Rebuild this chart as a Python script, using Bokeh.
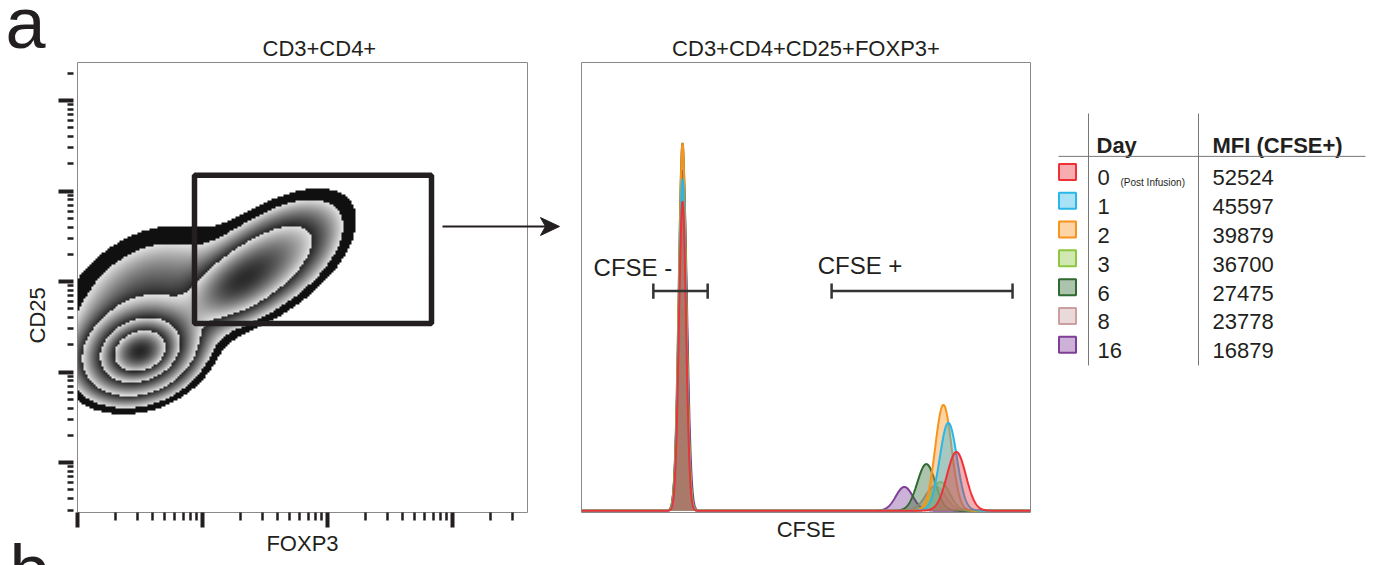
import numpy as np
from bokeh.plotting import figure
from bokeh.layouts import row
from bokeh.models import Range1d, FixedTicker, ColumnDataSource
from bokeh.core.properties import value
from bokeh.embed import file_html
from bokeh.resources import INLINE

FONT = "Liberation Sans"
INK = "#231f20"
FRAME = "#8a8a8a"

# ---------------- data: panel a, left (log10 fluorescence) ----------------
foxp3_limits = [2.0, 5.6]
cd25_limits = [1.45, 6.42]
foxp3_decades = [2, 3, 4, 5]
cd25_decades = [2, 3, 4, 5, 6]
# cell populations (log10 units)
pop_names = ["CD25lo FOXP3lo", "CD25+ FOXP3+ core", "CD25hi FOXP3+", "diffuse"]
pop_foxp3 = [2.50, 3.25, 3.56, 2.55]
pop_cd25 = [3.22, 3.95, 4.25, 3.82]
pop_sd_foxp3 = [0.23, 0.22, 0.31, 0.38]
pop_sd_cd25 = [0.25, 0.25, 0.36, 0.45]
pop_corr = [0.2, 0.5, 0.55, 0.35]
pop_peak = [1.0, 0.22, 0.26, 0.12]
zebra_levels = [0.025, 0.05, 0.16, 0.42, 0.72]
gate_foxp3 = [2.936, 4.832]
gate_cd25 = [3.538, 5.174]

# ---------------- data: panel a, right (CFSE histograms) ----------------
days = ["0", "1", "2", "3", "6", "8", "16"]
mfi = ["52524", "45597", "39879", "36700", "27475", "23778", "16879"]
day_colors = ["#ec3237", "#29b6e8", "#f7941d", "#8dc63f", "#2f6a31", "#c9a09d", "#7f3f98"]
neg_center = [225, 225, 225, 225, 225, 225, 226]
neg_sd = [8, 8, 8, 8.5, 8.5, 9, 9]
neg_height = [69, 74, 82, 74, 82, 45, 76]
pos_center = [835, 817, 806, 800, 768, 788, 719]
pos_sd = [21, 19, 18, 20, 20, 22, 19]
pos_height = [13.1, 19.6, 23.6, 6.4, 10.4, 5.5, 5.3]
cfse_gate_names = ["CFSE -", "CFSE +"]
cfse_gate_lo = [160, 557]
cfse_gate_hi = [281, 960]
cfse_gate_level = 49
cfse_label_x = [27, 526]
cfse_label_y = [54.3, 54.8]

# ================= left panel =================
p1 = figure(width=560, height=565, x_range=Range1d(*foxp3_limits), y_range=Range1d(*cd25_limits),
            output_backend="svg", toolbar_location=None,
            min_border_left=77, min_border_right=33, min_border_top=62, min_border_bottom=53,
            title="CD3+CD4+")
p1.outline_line_color = FRAME
p1.outline_line_width = 1
p1.grid.visible = False
p1.title.text_font = FONT
p1.title.text_font_size = "22px"
p1.title.text_font_style = "normal"
p1.title.text_color = INK
p1.title.align = "left"
p1.title.offset = 185
p1.title.standoff = 4

def log_minor(lo, hi):
    out = []
    for n in range(int(np.floor(lo)) - 1, int(np.ceil(hi)) + 1):
        for k in range(2, 10):
            v = n + np.log10(k)
            if lo <= v <= hi:
                out.append(float(v))
    return out

xa = p1.xaxis[0]
xa.ticker = FixedTicker(ticks=foxp3_decades, minor_ticks=log_minor(*foxp3_limits))
xa.axis_line_color = None
xa.major_tick_in = 0
xa.major_tick_out = 15
xa.major_tick_line_width = 4
xa.major_tick_line_color = INK
xa.minor_tick_in = 0
xa.minor_tick_out = 8
xa.minor_tick_line_width = 2.5
xa.minor_tick_line_color = INK
xa.major_label_text_font_size = "0px"
xa.major_label_standoff = 0
xa.axis_label = "FOXP3"
xa.axis_label_text_font = FONT
xa.axis_label_text_font_size = "22px"
xa.axis_label_text_font_style = "normal"
xa.axis_label_text_color = INK
xa.axis_label_standoff = 3

ya = p1.yaxis[0]
ya.ticker = FixedTicker(ticks=cd25_decades, minor_ticks=log_minor(*cd25_limits))
ya.axis_line_color = None
ya.major_tick_in = -4
ya.major_tick_out = 19
ya.major_tick_line_width = 4
ya.major_tick_line_color = INK
ya.minor_tick_in = -4
ya.minor_tick_out = 10
ya.minor_tick_line_width = 2.5
ya.minor_tick_line_color = INK
ya.major_label_text_font_size = "0px"
ya.major_label_standoff = 0

# zebra density image
nx, ny = 225, 225
xs = foxp3_limits[0] + (np.arange(nx) + 0.5) * (foxp3_limits[1] - foxp3_limits[0]) / nx
ys = cd25_limits[0] + (np.arange(ny) + 0.5) * (cd25_limits[1] - cd25_limits[0]) / ny
X, Y = np.meshgrid(xs, ys)
D = np.zeros_like(X)
for cx, cy, sx, sy, rho, pk in zip(pop_foxp3, pop_cd25, pop_sd_foxp3, pop_sd_cd25, pop_corr, pop_peak):
    dx = (X - cx) / sx
    dy = (Y - cy) / sy
    z = (dx ** 2 + dy ** 2 - 2 * rho * dx * dy) / (1 - rho ** 2)
    D += pk * np.exp(-0.5 * z)

gray = np.full(D.shape, 255.0)
alpha = np.zeros(D.shape, dtype=np.uint8)
rim = (D >= zebra_levels[0]) & (D < zebra_levels[1])
gray[rim] = 16
alpha[rim] = 255
edges = zebra_levels[1:] + [float(D.max()) * 1.001]
for lo, hi in zip(edges[:-1], edges[1:]):
    m = (D >= lo) & (D < hi)
    t = np.log(D[m] / lo) / np.log(hi / lo)
    gray[m] = 228 - 190 * t
    alpha[m] = 255
rgba = np.zeros((ny, nx, 4), dtype=np.uint8)
g8 = np.clip(gray, 0, 255).astype(np.uint8)
rgba[..., 0] = g8
rgba[..., 1] = g8
rgba[..., 2] = g8
rgba[..., 3] = alpha
img = rgba.view(np.uint32).reshape(ny, nx)
p1.image_rgba(image=[img], x=foxp3_limits[0], y=cd25_limits[0],
              dw=foxp3_limits[1] - foxp3_limits[0], dh=cd25_limits[1] - cd25_limits[0])

# gate
p1.quad(left=[gate_foxp3[0]], right=[gate_foxp3[1]], bottom=[gate_cd25[0]], top=[gate_cd25[1]],
        fill_color=None, line_color=INK, line_width=5.5)

# arrow to histogram panel (overlay level so it may leave the frame)
p1.segment(x0=[4.92], y0=[4.609], x1=[5.77], y1=[4.609], line_color=INK, line_width=2, level="overlay")
p1.patch(x=[5.856, 5.704, 5.744, 5.704], y=[4.609, 4.707, 4.609, 4.510],
         fill_color=INK, line_color=INK, line_width=1, level="overlay")

p1.text(x=[1.68], y=[3.627], text=["CD25"], angle=np.pi / 2, text_align="center",
        text_baseline="middle", text_font=value(FONT), text_font_size="22px",
        text_color=INK, level="overlay")
p1.text(x=[1.424, 1.456], y=[6.860, 0.820], text=["a", "b"], text_font=value(FONT),
        text_font_size="72px", text_baseline="middle", text_color=INK, level="overlay")

# ================= right panel =================
p2 = figure(width=490, height=565, x_range=Range1d(0, 1000), y_range=Range1d(-0.4, 100),
            output_backend="svg", toolbar_location=None,
            min_border_left=21, min_border_right=20, min_border_top=62, min_border_bottom=53,
            title="CD3+CD4+CD25+FOXP3+")
p2.outline_line_color = FRAME
p2.outline_line_width = 1
p2.grid.visible = False
p2.title.text_font = FONT
p2.title.text_font_size = "22px"
p2.title.text_font_style = "normal"
p2.title.text_color = INK
p2.title.align = "center"
p2.title.standoff = 4
p2.yaxis.visible = False
xb = p2.xaxis[0]
xb.ticker = FixedTicker(ticks=[])
xb.axis_line_color = None
xb.major_tick_line_color = None
xb.minor_tick_line_color = None
xb.major_tick_out = 0
xb.minor_tick_out = 0
xb.major_label_text_font_size = "0px"
xb.major_label_standoff = 0
xb.axis_label = "CFSE"
xb.axis_label_text_font = FONT
xb.axis_label_text_font_size = "22px"
xb.axis_label_text_font_style = "normal"
xb.axis_label_text_color = INK
xb.axis_label_standoff = 4

cx = np.linspace(0, 1000, 2001)
for i in reversed(range(len(days))):
    yv = (neg_height[i] * np.exp(-0.5 * ((cx - neg_center[i]) / neg_sd[i]) ** 2)
          + pos_height[i] * np.exp(-0.5 * ((cx - pos_center[i]) / pos_sd[i]) ** 2))
    src = ColumnDataSource(dict(x=cx, y=yv, y0=np.zeros_like(cx)))
    p2.varea(x="x", y1="y0", y2="y", source=src, fill_color=day_colors[i], fill_alpha=0.4)
    p2.line(x="x", y="y", source=src, line_color=day_colors[i], line_width=2)

gate_src = ColumnDataSource(dict(lo=cfse_gate_lo, hi=cfse_gate_hi,
                                 lvl=[cfse_gate_level] * 2,
                                 cap_lo=[cfse_gate_level - 1.7] * 2,
                                 cap_hi=[cfse_gate_level + 1.7] * 2))
p2.segment(x0="lo", y0="lvl", x1="hi", y1="lvl", source=gate_src, line_color="#333333", line_width=2.5)
p2.segment(x0="lo", y0="cap_lo", x1="lo", y1="cap_hi", source=gate_src, line_color="#333333", line_width=2.5)
p2.segment(x0="hi", y0="cap_lo", x1="hi", y1="cap_hi", source=gate_src, line_color="#333333", line_width=2.5)
p2.text(x=cfse_label_x, y=cfse_label_y, text=cfse_gate_names, text_font=value(FONT),
        text_font_size="24px", text_color=INK, text_baseline="middle")

# ================= table (legend) =================
# frame is aligned with the other plots (62..512 px); rows are 28.8 px apart
p3 = figure(width=323, height=565, x_range=Range1d(0, 323), y_range=Range1d(11.615, -4.010),
            output_backend="svg", toolbar_location=None,
            min_border_left=0, min_border_right=0, min_border_top=62, min_border_bottom=53)
p3.axis.visible = False
p3.grid.visible = False
p3.outline_line_color = None

rows_idx = list(range(len(days)))
tsrc = ColumnDataSource(dict(r=rows_idx, sw=[r - 0.21 for r in rows_idx],
                             day=days, mfi=mfi, col=day_colors))
p3.rect(x=17, y="sw", width=17, height=16, width_units="screen", height_units="screen", source=tsrc,
        fill_color="col", fill_alpha=0.4, line_color="col", line_width=2)
p3.text(x=47, y="r", text="day", source=tsrc, text_font=value(FONT), text_font_size="22px",
        text_color=INK, text_baseline="middle")
p3.text(x=162, y="r", text="mfi", source=tsrc, text_font=value(FONT), text_font_size="22px",
        text_color=INK, text_baseline="middle")
p3.text(x=[70], y=[0.14], text=["(Post Infusion)"], text_font=value(FONT), text_font_size="10px",
        text_color=INK, text_baseline="middle")
p3.text(x=[46, 162], y=[-1.115, -1.115], text=["Day", "MFI (CFSE+)"], text_font=value(FONT),
        text_font_size="22px", text_font_style="bold", text_color=INK, text_baseline="middle")
p3.segment(x0=[38, 148, 8], y0=[-2.24, -2.24, -0.75], x1=[38, 148, 315], y1=[6.51, 6.51, -0.75],
           line_color="#777777", line_width=1)

layout = row(p1, p2, p3)
open("out.html", "w").write(file_html(layout, INLINE))
